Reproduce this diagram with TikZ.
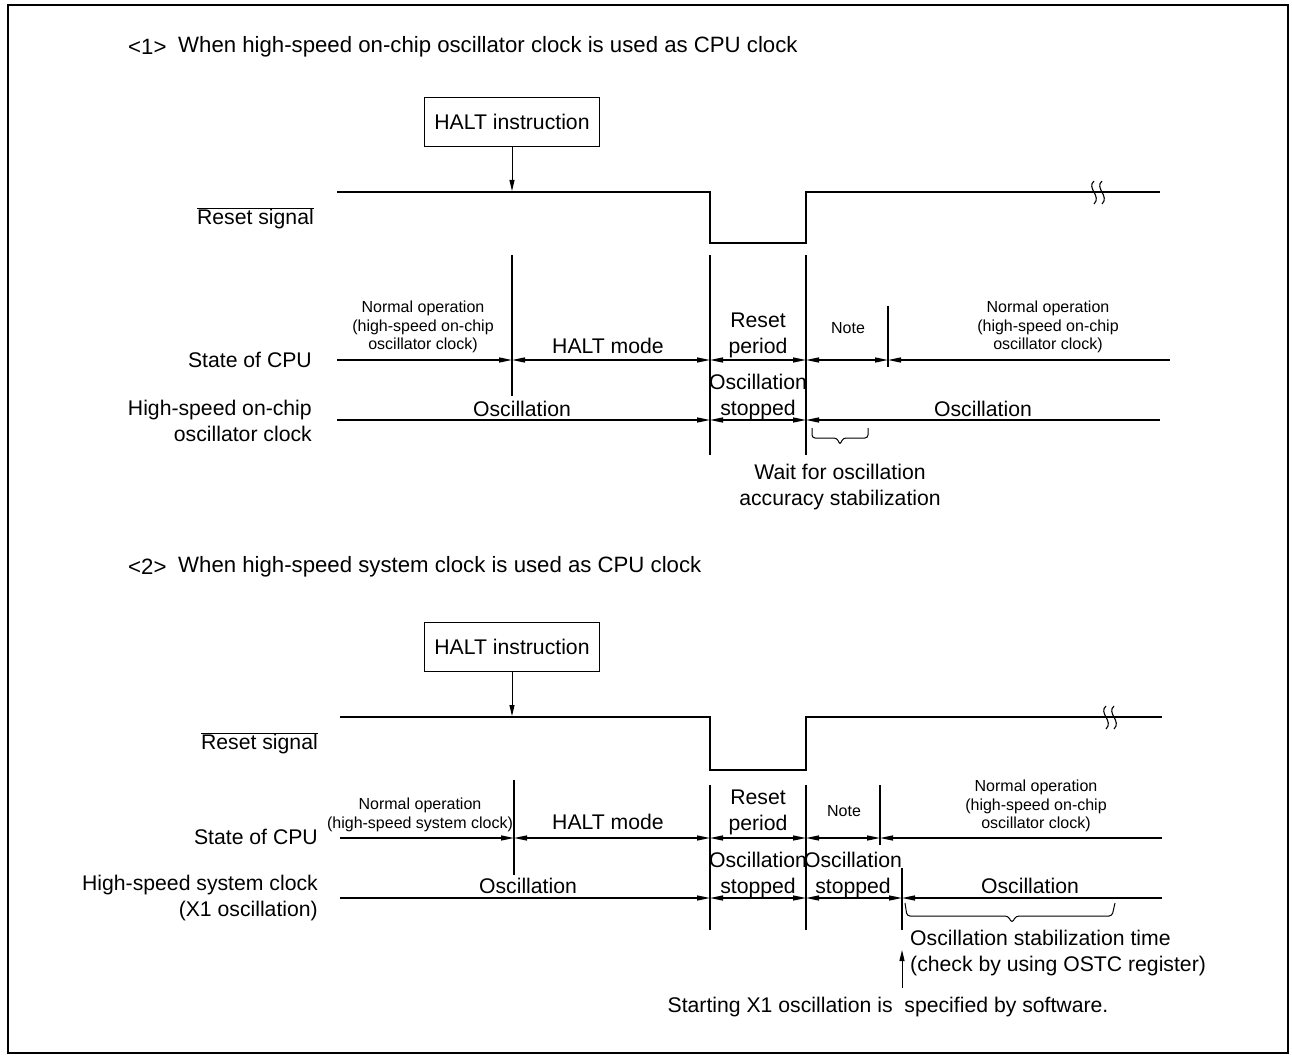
\documentclass[tikz,border=0pt]{standalone}
\usepackage{fontspec}
\setmainfont{Liberation Sans}
\usetikzlibrary{arrows.meta}
\begin{document}
\begin{tikzpicture}[x=1pt,y=-1pt,
  >={Triangle[length=13pt,width=5pt]},
  sig/.style={line width=2.2pt},
  tl/.style={line width=1.3pt},
  vl/.style={line width=1.3pt},
  brc/.style={line width=1pt,rounded corners=3pt},
  wav/.style={line width=1.1pt},
  big/.style={font=\fontsize{21.2}{25.5}\selectfont},
  ttl/.style={font=\fontsize{22.2}{26}\selectfont,anchor=west,inner sep=0pt},
  sm/.style={font=\fontsize{16}{18.5}\selectfont},
  bigml/.style={big,align=center,inner sep=0pt},
  smml/.style={sm,align=center,inner sep=0pt},
  haltbox/.style={draw,line width=1pt,minimum width=175pt,minimum height=49pt,inner sep=0pt,big},
  harrow/.style={line width=1pt,-{Triangle[length=11pt,width=5pt]}}
]
\useasboundingbox (0,0) rectangle (1292,1056);
\draw[line width=2.4pt] (8,5) rectangle (1288,1053);

%================ Section 1 ================
\node[ttl] (t1n) at (128,47) {<1>};
\node[ttl] (t1) at (178,47) {When high-speed on-chip oscillator clock is used as CPU clock};

\node[haltbox] (halt1) at (512,122) {HALT instruction};
\coordinate (h1) at (512,191);
\draw[harrow] (halt1) -- (h1);

\coordinate (r1a) at (337,192); \coordinate (r1b) at (710,192);
\coordinate (r1c) at (710,243); \coordinate (r1d) at (806,243);
\coordinate (r1e) at (806,192); \coordinate (r1f) at (1160,192);
\draw[sig] (r1a) -- (r1b) -- (r1c) -- (r1d) -- (r1e) -- (r1f);
\draw[wav] (1094,181) .. controls (1086,188) and (1102,196) .. (1094,204);
\draw[wav] (1102,181) .. controls (1094,188) and (1110,196) .. (1102,204);
\node[big,anchor=east,inner sep=0pt] (rs1) at (314,218) {$\overline{\mbox{Reset signal}}$};

% vertical markers
\coordinate (v1at) at (512,255); \coordinate (v1ab) at (512,396);
\coordinate (v1bt) at (710,255); \coordinate (v1bb) at (710,455);
\coordinate (v1ct) at (806,255); \coordinate (v1cb) at (806,455);
\coordinate (v1dt) at (888,306); \coordinate (v1db) at (888,367);
\draw[vl] (v1at) -- (v1ab);
\draw[vl] (v1bt) -- (v1bb);
\draw[vl] (v1ct) -- (v1cb);
\draw[vl] (v1dt) -- (v1db);

% state of CPU
\coordinate (s1a) at (337,360); \coordinate (s1b) at (512,360);
\coordinate (s1c) at (710,360); \coordinate (s1d) at (806,360);
\coordinate (s1e) at (888,360); \coordinate (s1f) at (1170,360);
\draw[tl,->] (s1a) -- (s1b);
\draw[tl,<->] (s1b) -- (s1c);
\draw[tl,<->] (s1c) -- (s1d);
\draw[tl,<->] (s1d) -- (s1e);
\draw[tl,<-] (s1e) -- (s1f);
\node[big,anchor=east,inner sep=0pt] (sc1) at (312,360) {State of CPU};
\node[smml] (no1) at (423,327) {Normal operation\\(high-speed on-chip\\oscillator clock)};
\node[big,inner sep=0pt] (hm1) at (608,346) {HALT mode};
\node[bigml,text depth=0pt] (rp1) at (758,333) {Reset\\period};
\node[sm,inner sep=0pt] (nt1) at (848,328) {Note};
\node[smml] (no1b) at (1048,327) {Normal operation\\(high-speed on-chip\\oscillator clock)};

% clock
\coordinate (c1a) at (337,420); \coordinate (c1b) at (710,420);
\coordinate (c1c) at (806,420); \coordinate (c1d) at (1160,420);
\draw[tl,->] (c1a) -- (c1b);
\draw[tl,<->] (c1b) -- (c1c);
\draw[tl,<-] (c1c) -- (c1d);
\node[bigml,anchor=east,align=right] (hs1) at (312,421) {High-speed on-chip\\oscillator clock};
\node[big,inner sep=0pt] (os1a) at (522,409) {Oscillation};
\node[bigml] (os1b) at (758,397) {Oscillation\\stopped};
\node[big,inner sep=0pt] (os1c) at (983,409) {Oscillation};

\draw[brc] (812,428) -- (812,438) -- (837,438) -- (840,445) -- (843,438) -- (868,438) -- (868,428);
\node[bigml] (wt1) at (840,487) {Wait for oscillation\\accuracy stabilization};

%================ Section 2 ================
\node[ttl] (t2n) at (128,567) {<2>};
\node[ttl] (t2) at (178,567) {When high-speed system clock is used as CPU clock};

\node[haltbox] (halt2) at (512,647) {HALT instruction};
\coordinate (h2) at (512,716);
\draw[harrow] (halt2) -- (h2);

\coordinate (r2a) at (340,717); \coordinate (r2b) at (710,717);
\coordinate (r2c) at (710,770); \coordinate (r2d) at (806,770);
\coordinate (r2e) at (806,717); \coordinate (r2f) at (1162,717);
\draw[sig] (r2a) -- (r2b) -- (r2c) -- (r2d) -- (r2e) -- (r2f);
\draw[wav] (1106,706) .. controls (1098,713) and (1114,721) .. (1106,729);
\draw[wav] (1114,706) .. controls (1106,713) and (1122,721) .. (1114,729);
\node[big,anchor=east,inner sep=0pt] (rs2) at (318,743) {$\overline{\mbox{Reset signal}}$};

\coordinate (v2at) at (514,780); \coordinate (v2ab) at (514,875);
\coordinate (v2bt) at (710,785); \coordinate (v2bb) at (710,930);
\coordinate (v2ct) at (806,785); \coordinate (v2cb) at (806,930);
\coordinate (v2dt) at (880,785); \coordinate (v2db) at (880,845);
\coordinate (v2et) at (902,868); \coordinate (v2eb) at (902,930);
\draw[vl] (v2at) -- (v2ab);
\draw[vl] (v2bt) -- (v2bb);
\draw[vl] (v2ct) -- (v2cb);
\draw[vl] (v2dt) -- (v2db);
\draw[vl] (v2et) -- (v2eb);

\coordinate (s2a) at (340,838); \coordinate (s2b) at (514,838);
\coordinate (s2c) at (710,838); \coordinate (s2d) at (806,838);
\coordinate (s2e) at (880,838); \coordinate (s2f) at (1162,838);
\draw[tl,->] (s2a) -- (s2b);
\draw[tl,<->] (s2b) -- (s2c);
\draw[tl,<->] (s2c) -- (s2d);
\draw[tl,<->] (s2d) -- (s2e);
\draw[tl,<-] (s2e) -- (s2f);
\node[big,anchor=east,inner sep=0pt] (sc2) at (318,837) {State of CPU};
\node[smml] (no2) at (420,815) {Normal operation\\(high-speed system clock)};
\node[big,inner sep=0pt] (hm2) at (608,822) {HALT mode};
\node[bigml,text depth=0pt] (rp2) at (758,810) {Reset\\period};
\node[sm,inner sep=0pt] (nt2) at (844,811) {Note};
\node[smml] (no2b) at (1036,806) {Normal operation\\(high-speed on-chip\\oscillator clock)};

\coordinate (c2a) at (340,898); \coordinate (c2b) at (710,898);
\coordinate (c2c) at (806,898); \coordinate (c2d) at (902,898);
\coordinate (c2e) at (1162,898);
\draw[tl,->] (c2a) -- (c2b);
\draw[tl,<->] (c2b) -- (c2c);
\draw[tl,<->] (c2c) -- (c2d);
\draw[tl,<-] (c2d) -- (c2e);
\node[bigml,anchor=east,align=right] (hs2) at (318,898) {High-speed system clock\\(X1 oscillation)};
\node[big,inner sep=0pt] (os2a) at (528,886) {Oscillation};
\node[bigml] (os2b) at (758,875) {Oscillation\\stopped};
\node[bigml] (os2c) at (853,875) {Oscillation\\stopped};
\node[big,inner sep=0pt] (os2d) at (1030,886) {Oscillation};

\draw[brc] (905,903) -- (907,916) -- (1008,916) -- (1012,923) -- (1016,916) -- (1112,916) -- (1115,903);
\node[bigml,anchor=west,align=left] (st2) at (910,953) {Oscillation stabilization time\\(check by using OSTC register)};
\coordinate (ar2b) at (902,988); \coordinate (ar2t) at (902,950);
\draw[harrow] (ar2b) -- (ar2t);
\node[big,inner sep=0pt] (sx2) at (888,1007) {Starting X1 oscillation is\ \ specified by software.};
\end{tikzpicture}
\end{document}
